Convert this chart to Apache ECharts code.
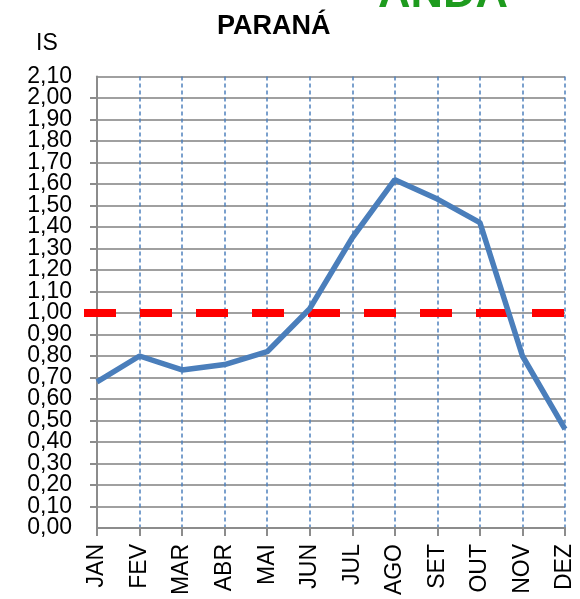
<!DOCTYPE html>
<html>
<head>
<meta charset="utf-8">
<script src="https://cdn.jsdelivr.net/npm/echarts@6/dist/echarts.min.js"></script>
<style>html,body{margin:0;padding:0;background:#fff}#c{width:580px;height:599px}</style>
</head>
<body>
<div id="c"></div>
<script>
const months = ['JAN','FEV','MAR','ABR','MAI','JUN','JUL','AGO','SET','OUT','NOV','DEZ'];
const isValues = [0.68, 0.80, 0.735, 0.76, 0.82, 1.02, 1.35, 1.62, 1.53, 1.42, 0.80, 0.46];
const limitX = [0, 1];
const limitValue = [1.00, 1.00];
const yMin = 0, yMax = 2.1, yStep = 0.1;

const FONT = 'Liberation Sans';
const fmt = v => v.toFixed(2).replace('.', ',');
const labelStyle = {margin:25, fontFamily:FONT, fontSize:23, color:'#000', hideOverlap:false, formatter:fmt};
const chart = echarts.init(document.getElementById('c'), null, {renderer:'canvas'});
chart.setOption({
  animation:false,
  backgroundColor:'#fff',
  title:{text:'PARANÁ', left:212, top:8, textStyle:{fontFamily:FONT, fontWeight:'bold', fontSize:27, color:'#000'}},
  graphic:[
    {type:'text', left:36, top:32, style:{text:'IS', font:'23px '+FONT, fill:'#000'}},
    {type:'text', x:378, y:-28, style:{text:'ANDA', font:'bold 45px '+FONT, fill:'#1e9b1e'}}
  ],
  grid:[
    {left:97, right:15, top:76.5, bottom:71, containLabel:false},
    {left:84, right:15, top:76.5, bottom:71, containLabel:false}
  ],
  xAxis:[
    {type:'category', gridIndex:0, data:months, boundaryGap:false,
     axisLine:{lineStyle:{color:'#8c8c8c', width:2}},
     axisTick:{show:true, length:8, lineStyle:{color:'#8c8c8c', width:2}},
     axisLabel:{rotate:90, margin:16, fontFamily:FONT, fontSize:23, color:'#000', interval:0, hideOverlap:false},
     splitLine:{show:true, lineStyle:{color:'#4f81bd', width:1.5, type:[4,3]}}},
    {type:'value', gridIndex:1, min:0, max:1, show:false}
  ],
  yAxis:[
    {type:'value', gridIndex:0, min:yMin, max:yMax, interval:yStep,
     axisLine:{show:true, lineStyle:{color:'#8c8c8c', width:2}},
     axisTick:{show:true, length:7, lineStyle:{color:'#8c8c8c', width:2}},
     axisLabel:Object.assign({showMinLabel:false, showMaxLabel:false}, labelStyle),
     splitLine:{show:true, lineStyle:{color:'#a0a0a0', width:2}}},
    {type:'value', gridIndex:1, min:yMin, max:yMax, show:false},
    {type:'value', gridIndex:0, position:'left', min:yMin, max:yMax, interval:yMax - yMin,
     axisLine:{show:false}, axisTick:{show:false}, splitLine:{show:false},
     axisLabel:Object.assign({showMinLabel:true, showMaxLabel:true}, labelStyle)}
  ],
  series:[
    {type:'line', xAxisIndex:1, yAxisIndex:1, z:3, data:limitX.map((x,i)=>[x,limitValue[i]]),
     symbol:'none', lineStyle:{color:'#ff0000', width:8, type:[32,24], cap:'butt'}},
    {type:'line', xAxisIndex:0, yAxisIndex:0, z:4, data:isValues,
     symbol:'none', lineStyle:{color:'#4a7ebb', width:5.5}}
  ]
});
</script>
</body>
</html>
